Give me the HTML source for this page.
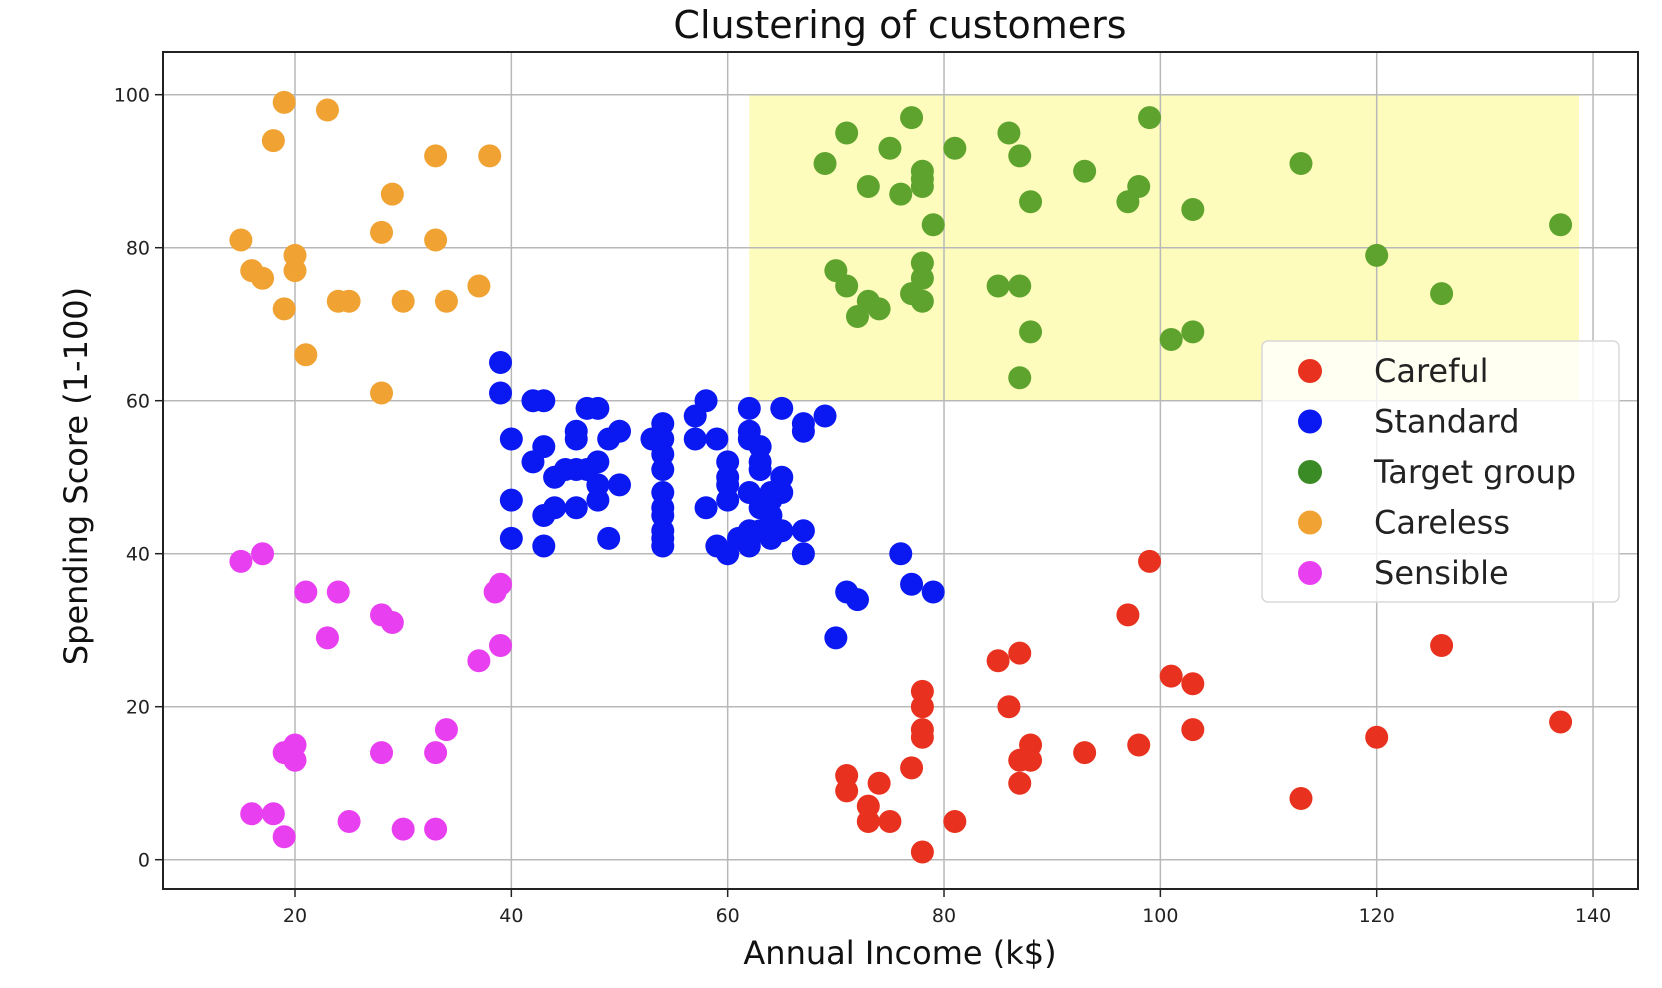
<!DOCTYPE html>
<html><head><meta charset="utf-8"><style>
html,body{margin:0;padding:0;background:#fff;}
svg{display:block;font-family:"DejaVu Sans","Liberation Sans",sans-serif;}
</style></head><body>
<svg id="s" width="1662" height="988" xmlns="http://www.w3.org/2000/svg">
<rect width="1662" height="988" fill="#fff"/>
</svg>
<script>
var s=document.getElementById('s'),NS='http://www.w3.org/2000/svg';
function X(v){return 295+10.817*(v-20);}
function Y(v){return 859.7-7.65*v;}
function el(t,a,txt){var e=document.createElementNS(NS,t);for(var k in a)e.setAttribute(k,a[k]);if(txt!=null)e.textContent=txt;s.appendChild(e);return e;}
el('rect',{x:X(62),y:Y(100),width:X(138.7)-X(62),height:Y(60)-Y(100),fill:'#fefcbc'});
[20,40,60,80,100,120,140].forEach(function(v){el('line',{x1:X(v),x2:X(v),y1:52,y2:889,stroke:'#b8b8b8','stroke-width':1.5});
 el('line',{x1:X(v),x2:X(v),y1:889,y2:897,stroke:'#222','stroke-width':1.5});
 el('text',{x:X(v),y:922,'font-size':19,'text-anchor':'middle',fill:'#222'},v);});
[0,20,40,60,80,100].forEach(function(v){el('line',{x1:163,x2:1638,y1:Y(v),y2:Y(v),stroke:'#b8b8b8','stroke-width':1.5});
 el('line',{x1:155,x2:163,y1:Y(v),y2:Y(v),stroke:'#222','stroke-width':1.5});
 el('text',{x:150,y:Y(v)+7,'font-size':19,'text-anchor':'end',fill:'#222'},v);});
var data={
'#f0a233':[[19,99],[23,98],[18,94],[33,92],[38,92],[29,87],[28,82],[33,81],[15,81],[20,79],[16,77],[20,77],[17,76],[37,75],[19,72],[24,73],[25,73],[30,73],[34,73],[21,66],[28,61]],
'#e83ff0':[[15,39],[17,40],[21,35],[24,35],[28,32],[29,31],[23,29],[39,36],[38.5,35],[39,28],[37,26],[34,17],[19,14],[20,15],[20,13],[28,14],[33,14],[16,6],[18,6],[19,3],[25,5],[30,4],[33,4]],
'#5ea32e':[[69,91],[71,95],[75,93],[77,97],[73,88],[76,87],[78,90],[78,89],[78,88],[79,83],[81,93],[86,95],[87,92],[88,86],[93,90],[97,86],[98,88],[99,97],[103,85],[113,91],[137,83],[120,79],[126,74],[70,77],[71,75],[72,71],[73,73],[74,72],[77,74],[78,78],[78,76],[78,73],[85,75],[87,75],[88,69],[87,63],[101,68],[103,69]],
'#e8321f':[[99,39],[97,32],[126,28],[85,26],[87,27],[101,24],[103,23],[78,22],[78,20],[86,20],[78,17],[78,16],[103,17],[137,18],[120,16],[88,15],[98,15],[93,14],[87,13],[88,13],[77,12],[71,11],[71,9],[74,10],[87,10],[113,8],[73,7],[73,5],[75,5],[81,5],[78,1]],
'#0a18f2':[[39,65],[39,61],[42,60],[43,60],[40,55],[43,54],[42,52],[44,50],[40,47],[43,45],[44,46],[46,46],[40,42],[43,41],[46,56],[46,55],[47,59],[48,59],[48,52],[47,51],[46,51],[49,55],[50,56],[48,49],[48,47],[50,49],[49,42],[54,57],[54,55],[54,53],[54,51],[54,48],[54,46],[54,45],[54,43],[54,42],[54,41],[57,58],[58,60],[57,55],[59,55],[58,46],[60,52],[60,50],[60,49],[60,47],[59,41],[60,40],[61,42],[62,42],[62,59],[62,56],[62,55],[63,54],[63,52],[63,51],[62,48],[64,48],[63,46],[64,45],[62,43],[63,43],[62,41],[64,42],[65,59],[65,50],[65,48],[64,47],[65,43],[67,57],[67,56],[69,58],[67,43],[67,40],[76,40],[71,35],[72,34],[77,36],[79,35],[70,29],[45,51],[53,55]]
};
for(var c in data)data[c].forEach(function(p){el('circle',{cx:X(p[0]),cy:Y(p[1]),r:11.5,fill:c});});
el('rect',{x:163,y:52,width:1475,height:837,fill:'none',stroke:'#222','stroke-width':2});
el('rect',{x:1262,y:341,width:357,height:261,rx:6,fill:'#fff','fill-opacity':0.8,stroke:'#d8d8d8','stroke-width':1.5});
var L=[['#e8321f','Careful'],['#0a18f2','Standard'],['#3a8a26','Target group'],['#f0a233','Careless'],['#e83ff0','Sensible']];
L.forEach(function(l,i){var cy=371+i*50.5;el('circle',{cx:1310,cy:cy,r:12,fill:l[0]});
 el('text',{x:1374,y:cy+11,'font-size':32,fill:'#222'},l[1]);});
el('text',{x:900,y:38,'font-size':38,'text-anchor':'middle',fill:'#111'},'Clustering of customers');
el('text',{x:900,y:964,'font-size':32,'text-anchor':'middle',fill:'#111'},'Annual Income (k$)');
el('text',{x:0,y:0,'font-size':32,'text-anchor':'middle',fill:'#111',transform:'translate(87,476) rotate(-90)'},'Spending Score (1-100)');
</script>
</body></html>
